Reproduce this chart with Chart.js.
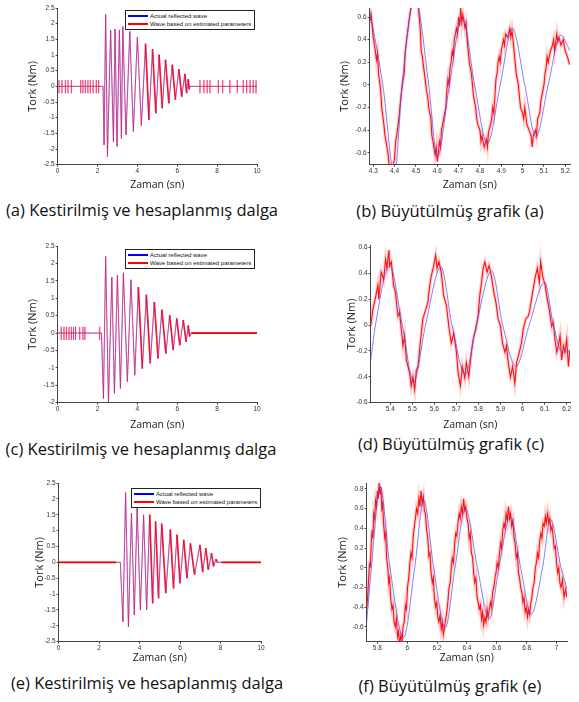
<!DOCTYPE html>
<html lang="tr">
<head>
<meta charset="UTF-8">
<title>Tork dalgaları</title>
<script src="https://cdn.jsdelivr.net/npm/chart.js"></script>
<style>
  body { margin: 0; background: #fff; }
  #wrap { position: relative; width: 579px; height: 702px; overflow: hidden; }
  .panel { position: absolute; }
  .cap { position: absolute; font-family: "Open Sans", sans-serif; font-size: 16.5px; color: #111; white-space: nowrap; transform: translate(-50%, -50%); }
  .lg { position: absolute; border: 1px solid #222; background: #fff; font-family: "Liberation Sans", Arial, sans-serif; font-size: 6px; color: #111; padding: 1px 3px 1px 2px; line-height: 8px; white-space: nowrap; }
  .lg .sw { display: inline-block; width: 20px; height: 2px; vertical-align: middle; margin-right: 2px; }
</style>
</head>
<body>
<div id="wrap"></div>
<script>
// --- data ---
const seriesLabels = ['Actual reflected wave', 'Wave based on estimated parameters'];
const xTitle = 'Zaman (sn)';
const yTitle = 'Tork (Nm)';
const captions = [
  '(a) Kestirilmiş ve hesaplanmış dalga',
  '(b) Büyütülmüş grafik (a)',
  '(c) Kestirilmiş ve hesaplanmış dalga',
  '(d) Büyütülmüş grafik (c)',
  '(e) Kestirilmiş ve hesaplanmış dalga',
  '(f) Büyütülmüş grafik (e)'
];

const fullXTicks = [0, 2, 4, 6, 8, 10];
const fullYTicks = [-2.5, -2, -1.5, -1, -0.5, 0, 0.5, 1, 1.5, 2, 2.5];
const fullYTicksC = [-2, -1.5, -1, -0.5, 0, 0.5, 1, 1.5, 2, 2.5];
const bXTicks = [4.3, 4.4, 4.5, 4.6, 4.7, 4.8, 4.9, 5, 5.1, 5.2];
const bYTicks = [-0.6, -0.4, -0.2, 0, 0.2, 0.4, 0.6];
const dXTicks = [5.4, 5.5, 5.6, 5.7, 5.8, 5.9, 6, 6.1, 6.2];
const dYTicks = [-0.6, -0.4, -0.2, 0, 0.2, 0.4, 0.6];
const fXTicks = [5.8, 6, 6.2, 6.4, 6.6, 6.8, 7];
const fYTicks = [-0.6, -0.4, -0.2, 0, 0.2, 0.4, 0.6, 0.8];

// (a) oscillation extremes [time, torque]
const waveA = [[2.28,0],[2.33,-1.87],[2.41,2.29],[2.5,-2.24],[2.66,1.8],[2.8,-1.77],[2.88,1.83],[2.98,-1.92],[3.1,1.8],[3.2,-1.66],[3.27,1.91],[3.43,-1.55],[3.62,1.75],[3.8,-1.44],[4.0,1.57],[4.2,-1.25],[4.41,1.36],[4.58,-1.07],[4.76,1.19],[4.93,-0.86],[5.09,1.01],[5.25,-0.7],[5.41,0.85],[5.58,-0.54],[5.75,0.69],[5.91,-0.43],[6.08,0.55],[6.23,-0.33],[6.38,0.4],[6.47,-0.22],[6.55,0.23],[6.6,-0.1],[6.65,0]];
// red noise spikes on the flat parts [time, high, low]
const spikesA1 = [[0.07,0.2,-0.22],[0.22,0.2,-0.22],[0.39,0.2,-0.22],[0.52,0.2,-0.22],[0.69,0.2,-0.22],[1.16,0.2,-0.22],[1.27,0.2,-0.22],[1.39,0.2,-0.22],[1.52,0.2,-0.22],[1.64,0.2,-0.22],[1.78,0.2,-0.22],[1.94,0.2,-0.22],[2.06,0.2,-0.22]];
const spikesA2 = [[7.14,0.2,-0.22],[7.34,0.2,-0.22],[7.5,0.2,-0.22],[7.64,0.2,-0.22],[8.06,0.2,-0.22],[8.28,0.2,-0.22],[8.64,0.2,-0.22],[9.01,0.2,-0.22],[9.31,0.2,-0.22],[9.48,0.2,-0.22],[9.65,0.2,-0.22],[9.81,0.2,-0.22],[9.95,0.2,-0.22]];

// (b) zoom of (a)
const blueB = [[4.27,0.8],[4.345,0],[4.40,-0.8],[4.435,0],[4.495,0.78],[4.56,0],[4.60,-0.64],[4.657,0],[4.718,0.6],[4.775,0],[4.835,-0.52],[4.895,0],[4.952,0.5],[5.01,0],[5.062,-0.46],[5.12,0],[5.178,0.44],[5.222,0.3]];
const redB = [[4.283,0.55],[4.29,0.62],[4.3,0.42],[4.31,0.3],[4.315,0.22],[4.32,0.28],[4.325,0.1],[4.335,-0.05],[4.34,-0.2],[4.35,-0.35],[4.355,-0.45],[4.36,-0.5],[4.37,-0.62],[4.375,-0.72],[4.39,-0.75],[4.4,-0.65],[4.405,-0.5],[4.41,-0.45],[4.42,-0.3],[4.425,-0.2],[4.43,-0.1],[4.44,0.05],[4.445,0.1],[4.45,0.3],[4.46,0.45],[4.47,0.6],[4.48,0.72],[4.5,0.75],[4.51,0.72],[4.52,0.5],[4.525,0.3],[4.53,0.25],[4.54,0.1],[4.55,-0.05],[4.555,-0.1],[4.56,-0.2],[4.57,-0.3],[4.575,-0.45],[4.58,-0.5],[4.59,-0.62],[4.595,-0.55],[4.6,-0.68],[4.605,-0.6],[4.61,-0.5],[4.615,-0.55],[4.62,-0.4],[4.63,-0.3],[4.64,-0.2],[4.645,-0.05],[4.65,0.05],[4.655,0],[4.66,0.15],[4.665,0.2],[4.67,0.3],[4.675,0.25],[4.68,0.4],[4.69,0.5],[4.695,0.45],[4.7,0.6],[4.705,0.52],[4.71,0.68],[4.715,0.55],[4.72,0.62],[4.73,0.5],[4.735,0.55],[4.74,0.4],[4.745,0.3],[4.75,0.2],[4.76,0.1],[4.765,0],[4.77,-0.1],[4.78,-0.2],[4.785,-0.3],[4.79,-0.35],[4.8,-0.4],[4.805,-0.5],[4.81,-0.45],[4.82,-0.55],[4.83,-0.48],[4.835,-0.55],[4.84,-0.42],[4.85,-0.35],[4.855,-0.3],[4.86,-0.2],[4.865,-0.25],[4.87,-0.1],[4.875,0.05],[4.88,0.1],[4.885,0.2],[4.89,0.25],[4.895,0.2],[4.9,0.3],[4.91,0.4],[4.915,0.35],[4.92,0.45],[4.93,0.42],[4.94,0.5],[4.945,0.42],[4.95,0.48],[4.955,0.4],[4.96,0.3],[4.965,0.2],[4.97,0.1],[4.98,0],[4.985,-0.1],[4.99,-0.2],[5.0,-0.25],[5.005,-0.3],[5.01,-0.2],[5.02,-0.35],[5.03,-0.4],[5.04,-0.45],[5.045,-0.55],[5.05,-0.45],[5.06,-0.4],[5.065,-0.45],[5.07,-0.3],[5.08,-0.25],[5.085,-0.15],[5.09,-0.1],[5.1,0],[5.105,0.1],[5.11,0.15],[5.115,0.25],[5.12,0.2],[5.13,0.3],[5.14,0.35],[5.145,0.4],[5.15,0.3],[5.16,0.45],[5.165,0.38],[5.17,0.42],[5.18,0.35],[5.19,0.4],[5.2,0.3],[5.21,0.25],[5.22,0.18]];

// (c)
const waveC = [[2.2,0],[2.3,-1.88],[2.41,2.2],[2.55,-2.0],[2.72,1.6],[2.85,-1.73],[3.0,1.66],[3.15,-1.59],[3.3,1.73],[3.5,-1.4],[3.68,1.53],[3.87,-1.21],[4.05,1.32],[4.25,-1.02],[4.45,1.1],[4.65,-0.87],[4.85,0.89],[5.04,-0.73],[5.23,0.67],[5.43,-0.59],[5.62,0.51],[5.8,-0.49],[5.97,0.42],[6.13,-0.35],[6.3,0.37],[6.45,-0.25],[6.55,0.22],[6.62,-0.1],[6.7,0]];
const spikesC = [[0.18,0.18,-0.2],[0.32,0.18,-0.2],[0.44,0.18,-0.2],[0.57,0.18,-0.2],[0.69,0.18,-0.2],[0.8,0.18,-0.2],[0.9,0.18,-0.2],[1.11,0.18,-0.2],[1.27,0.18,-0.2],[1.37,0.18,-0.2],[2.11,0.18,-0.2]];
const flatC = [[6.7, 10]];

// (d) zoom of (c)
const blueD = [[5.31,-0.29],[5.333,0],[5.397,0.46],[5.455,0],[5.506,-0.44],[5.56,0],[5.63,0.45],[5.68,0],[5.74,-0.38],[5.79,0],[5.86,0.42],[5.91,0],[5.97,-0.32],[6.03,0],[6.1,0.33],[6.14,0],[6.18,-0.21],[6.215,-0.2]];
const redD = [[5.311,-0.01],[5.321,0.12],[5.333,0.21],[5.344,0.31],[5.348,0.2],[5.359,0.41],[5.37,0.35],[5.379,0.51],[5.385,0.44],[5.394,0.58],[5.397,0.46],[5.405,0.49],[5.415,0.31],[5.424,0.25],[5.435,0.07],[5.442,0.1],[5.45,-0.03],[5.458,-0.16],[5.465,-0.08],[5.473,-0.27],[5.488,-0.37],[5.495,-0.47],[5.503,-0.4],[5.511,-0.5],[5.518,-0.35],[5.526,-0.32],[5.536,-0.14],[5.548,0.05],[5.561,0.12],[5.571,0.18],[5.579,0.31],[5.586,0.38],[5.597,0.46],[5.606,0.54],[5.612,0.44],[5.621,0.49],[5.632,0.4],[5.642,0.23],[5.655,0.15],[5.667,-0.03],[5.677,-0.14],[5.688,-0.06],[5.7,-0.21],[5.708,-0.37],[5.718,-0.47],[5.727,-0.32],[5.738,-0.41],[5.745,-0.29],[5.756,-0.4],[5.768,-0.21],[5.776,-0.11],[5.788,-0.03],[5.798,0.07],[5.806,0.23],[5.814,0.33],[5.821,0.44],[5.829,0.49],[5.839,0.41],[5.848,0.46],[5.859,0.38],[5.87,0.25],[5.879,0.18],[5.889,0.05],[5.9,-0.01],[5.909,-0.14],[5.92,-0.21],[5.927,-0.16],[5.935,-0.29],[5.945,-0.4],[5.955,-0.32],[5.965,-0.45],[5.973,-0.29],[5.985,-0.21],[5.995,-0.14],[6.003,-0.03],[6.015,0.05],[6.026,0.07],[6.033,0.12],[6.045,0.25],[6.056,0.36],[6.067,0.44],[6.076,0.33],[6.082,0.49],[6.091,0.38],[6.102,0.31],[6.112,0.2],[6.121,0.12],[6.132,-0.01],[6.139,0.02],[6.147,-0.11],[6.155,-0.21],[6.162,-0.16],[6.17,-0.08],[6.177,-0.27],[6.185,-0.16],[6.192,-0.21],[6.2,-0.11],[6.208,-0.32],[6.215,-0.19]];

// (e)
const waveE = [[3.05,0],[3.18,-1.87],[3.31,2.2],[3.45,-2.03],[3.6,1.55],[3.74,-1.66],[3.88,1.74],[4.04,-1.5],[4.2,1.5],[4.35,-1.5],[4.5,1.5],[4.65,-1.29],[4.79,1.29],[4.94,-1.13],[5.09,1.22],[5.3,-0.97],[5.52,1.03],[5.68,-0.82],[5.85,0.87],[6.0,-0.66],[6.18,0.71],[6.35,-0.5],[6.51,0.6],[6.72,-0.39],[6.98,0.55],[7.12,-0.31],[7.27,0.45],[7.4,-0.24],[7.55,0.29],[7.66,-0.13],[7.77,0.1],[7.85,0]];
const flatE = [[0, 2.85], [8.05, 10]];

// (f) zoom of (e)
const blueF = [[5.728,-0.56],[5.76,0],[5.818,0.83],[5.885,0],[5.975,-0.71],[6.05,0],[6.11,0.69],[6.177,0],[6.255,-0.61],[6.32,0],[6.39,0.6],[6.47,0],[6.55,-0.52],[6.614,0],[6.69,0.52],[6.76,0],[6.83,-0.47],[6.906,0],[6.96,0.49],[7.03,0],[7.07,-0.22]];
const redF = [[5.728,-0.42],[5.735,-0.3],[5.742,-0.1],[5.748,0.05],[5.752,0],[5.758,0.2],[5.765,0.38],[5.77,0.3],[5.776,0.55],[5.782,0.5],[5.788,0.68],[5.795,0.62],[5.8,0.78],[5.806,0.7],[5.812,0.86],[5.818,0.75],[5.824,0.82],[5.83,0.6],[5.836,0.65],[5.842,0.45],[5.85,0.3],[5.856,0.35],[5.862,0.1],[5.87,0],[5.876,-0.15],[5.882,-0.1],[5.89,-0.32],[5.898,-0.42],[5.905,-0.38],[5.912,-0.55],[5.92,-0.6],[5.928,-0.52],[5.935,-0.7],[5.942,-0.65],[5.95,-0.78],[5.958,-0.68],[5.965,-0.74],[5.972,-0.6],[5.98,-0.55],[5.988,-0.38],[5.995,-0.42],[6.002,-0.2],[6.01,-0.1],[6.018,0.05],[6.025,0.15],[6.032,0.1],[6.04,0.32],[6.048,0.42],[6.055,0.5],[6.062,0.6],[6.07,0.55],[6.078,0.7],[6.085,0.62],[6.092,0.78],[6.1,0.65],[6.108,0.72],[6.115,0.58],[6.122,0.55],[6.13,0.38],[6.138,0.3],[6.145,0.12],[6.152,0.15],[6.16,-0.05],[6.168,-0.15],[6.175,-0.1],[6.182,-0.3],[6.19,-0.4],[6.198,-0.35],[6.205,-0.5],[6.212,-0.55],[6.22,-0.48],[6.228,-0.62],[6.235,-0.55],[6.242,-0.68],[6.25,-0.6],[6.258,-0.52],[6.265,-0.45],[6.272,-0.35],[6.28,-0.2],[6.288,-0.15],[6.295,0],[6.302,0.1],[6.31,0.05],[6.318,0.25],[6.325,0.35],[6.332,0.32],[6.34,0.45],[6.348,0.55],[6.355,0.5],[6.362,0.62],[6.37,0.55],[6.378,0.7],[6.385,0.58],[6.392,0.62],[6.4,0.5],[6.408,0.45],[6.415,0.3],[6.422,0.35],[6.43,0.15],[6.438,0.1],[6.445,-0.05],[6.452,-0.15],[6.46,-0.1],[6.468,-0.3],[6.475,-0.35],[6.482,-0.42],[6.49,-0.38],[6.498,-0.52],[6.505,-0.45],[6.512,-0.58],[6.52,-0.5],[6.528,-0.55],[6.535,-0.42],[6.542,-0.5],[6.55,-0.42],[6.558,-0.35],[6.565,-0.4],[6.572,-0.25],[6.58,-0.2],[6.588,-0.1],[6.595,-0.05],[6.602,0.05],[6.61,0],[6.618,0.15],[6.625,0.25],[6.632,0.2],[6.64,0.38],[6.648,0.45],[6.655,0.4],[6.662,0.55],[6.67,0.48],[6.678,0.62],[6.685,0.5],[6.692,0.55],[6.7,0.42],[6.708,0.48],[6.715,0.3],[6.722,0.25],[6.73,0.1],[6.738,0.15],[6.745,-0.05],[6.752,-0.1],[6.76,-0.2],[6.768,-0.25],[6.775,-0.35],[6.782,-0.3],[6.79,-0.45],[6.798,-0.4],[6.805,-0.5],[6.812,-0.42],[6.82,-0.48],[6.828,-0.35],[6.835,-0.3],[6.842,-0.2],[6.85,-0.15],[6.858,0],[6.865,0.05],[6.872,0.15],[6.88,0.1],[6.888,0.28],[6.895,0.35],[6.902,0.3],[6.91,0.45],[6.918,0.42],[6.925,0.52],[6.932,0.45],[6.94,0.55],[6.948,0.45],[6.955,0.5],[6.962,0.38],[6.97,0.42],[6.978,0.3],[6.985,0.2],[6.992,0.22],[7.0,0.05],[7.008,-0.05],[7.015,0],[7.022,-0.15],[7.03,-0.2],[7.04,-0.12],[7.05,-0.3],[7.06,-0.22],[7.07,-0.3]];

// --- helpers ---
const pts = arr => arr.map(([x, y]) => ({ x, y }));
function spikePts(spikes) {
  const out = [];
  spikes.forEach(([t, hi, lo]) => out.push({x: t, y: 0}, {x: t, y: hi}, {x: t, y: lo}, {x: t, y: 0}));
  return out;
}
function flatPts(ranges) {
  const out = [];
  ranges.forEach(([a, b], k) => {
    if (k) out.push({x: a, y: null});
    out.push({x: a, y: 0}, {x: b, y: 0});
  });
  return out;
}

const blueA = [{x: 0, y: 0}, ...pts(waveA), {x: 10, y: 0}];
const redA = [{x: 0, y: 0}, ...spikePts(spikesA1), ...pts(waveA), ...spikePts(spikesA2), {x: 10, y: 0}];
const blueC = [{x: 0, y: 0}, ...pts(waveC), {x: 10, y: 0}];
const redC = [{x: 0, y: 0}, ...spikePts(spikesC), ...pts(waveC), {x: 10, y: 0}];
const blueE = [{x: 0, y: 0}, ...pts(waveE), {x: 10, y: 0}];
const redE = [{x: 0, y: 0}, ...pts(waveE), {x: 10, y: 0}];

// chart-area geometry in page pixels: L,R,T,B; tx = y-title centre x, ty = x-title centre y
// heavy: time span where the red trace looks thickened on its falling strokes
const panels = [
  { L: 58, R: 257, T: 8, B: 165, tx: 33, ty: 185, xmin: 0, xmax: 10, ymin: -2.5, ymax: 2.5, xt: fullXTicks, yt: fullYTicks, blue: blueA, red: redA, flat: null, heavy: [4.3, 6.7], zoom: false },
  { L: 370, R: 570, T: 8, B: 165, tx: 345, ty: 185, xmin: 4.283, xmax: 5.222, ymin: -0.706, ymax: 0.68, xt: bXTicks, yt: bYTicks, blue: pts(blueB), red: pts(redB), zoom: true },
  { L: 58, R: 257, T: 246, B: 403, tx: 33, ty: 425, xmin: 0, xmax: 10, ymin: -2, ymax: 2.5, xt: fullXTicks, yt: fullYTicksC, blue: blueC, red: redC, flat: flatPts(flatC), heavy: [4.0, 6.7], zoom: false },
  { L: 371, R: 570, T: 245, B: 403, tx: 352, ty: 425, xmin: 5.311, xmax: 6.215, ymin: -0.6, ymax: 0.62, xt: dXTicks, yt: dYTicks, blue: pts(blueD), red: pts(redD), zoom: true },
  { L: 59, R: 261, T: 483, B: 642, tx: 40, ty: 658, xmin: 0, xmax: 10, ymin: -2.5, ymax: 2.5, xt: fullXTicks, yt: fullYTicks, blue: blueE, red: redE, flat: flatPts(flatE), heavy: [4.5, 7.9], zoom: false },
  { L: 367, R: 567, T: 483, B: 642, tx: 343, ty: 658, xmin: 5.728, xmax: 7.07, ymin: -0.75, ymax: 0.86, xt: fXTicks, yt: fYTicks, blue: pts(blueF), red: pts(redF), zoom: true }
];
const captionPos = [[142, 209], [450, 210], [141, 448], [451, 443], [147, 682], [450, 685]];
const legendPos = [[125, 10], null, [125, 249], null, [131, 488], null];

const wrap = document.getElementById('wrap');
const tickFont = { family: '"Liberation Sans", Arial, sans-serif', size: 6.5 };
const titleFontY = { family: '"Open Sans", sans-serif', size: 11 };
const titleFontX = { family: '"Open Sans", sans-serif', size: 10.5 };
const PT = 8, PR = 8;

panels.forEach((p, i) => {
  const yw = p.L - p.tx + titleFontY.size * 0.6;
  const xh = p.ty - p.B + titleFontX.size * 0.6;
  const div = document.createElement('div');
  div.className = 'panel';
  const w = Math.round(p.R - p.L + yw + PR), h = Math.round(p.B - p.T + PT + xh);
  div.style.left = (p.L - yw) + 'px';
  div.style.top = (p.T - PT) + 'px';
  const cv = document.createElement('canvas');
  cv.width = w; cv.height = h;
  cv.style.width = w + 'px'; cv.style.height = h + 'px';
  div.appendChild(cv);
  wrap.appendChild(div);

  let datasets;
  if (p.zoom) {
    datasets = [
      { label: seriesLabels[0], data: p.blue, borderColor: 'rgba(80,80,255,0.8)', borderWidth: 0.9, cubicInterpolationMode: 'monotone', order: 0 },
      { label: seriesLabels[1], data: p.red, borderColor: '#ff1010', borderWidth: 1.1, order: 1 },
      { label: 'halo', data: p.red, borderColor: 'rgba(255,90,90,0.28)', borderWidth: 3.5, order: 2 }
    ];
  } else {
    const heavy = ctx => ctx.p0.parsed.x >= p.heavy[0] && ctx.p1.parsed.x <= p.heavy[1] && ctx.p0.parsed.y > ctx.p1.parsed.y;
    datasets = [
      { label: seriesLabels[1], data: p.red, borderColor: 'rgba(235,30,90,0.72)', borderWidth: 0.9, order: 1,
        segment: {
          borderWidth: ctx => heavy(ctx) ? 1.7 : undefined,
          borderColor: ctx => heavy(ctx) ? 'rgba(250,0,20,0.85)' : undefined
        } },
      { label: seriesLabels[0], data: p.blue, borderColor: 'rgba(60,60,255,0.7)', borderWidth: 0.8, order: 2 }
    ];
    if (p.flat) datasets.push({ label: 'flat', data: p.flat, borderColor: '#ff0000', borderWidth: 1.8, spanGaps: false, order: 0 });
  }
  datasets.forEach(d => { d.pointRadius = 0; d.fill = false; d.tension = 0; });

  const axisCommon = (ticksArr, title, font) => ({
    type: 'linear',
    afterBuildTicks: s => { s.ticks = ticksArr.map(v => ({ value: v })); },
    ticks: { font: tickFont, color: '#333', padding: 1, maxRotation: 0, autoSkip: false, callback: v => String(v) },
    grid: { drawOnChartArea: false, tickLength: 2, color: '#444' },
    border: { color: '#444', width: 1 },
    title: { display: true, text: title, font: font, color: '#222', padding: 0 }
  });

  new Chart(cv.getContext('2d'), {
    type: 'line',
    data: { datasets },
    options: {
      responsive: false,
      animation: false,
      parsing: false,
      layout: { padding: { top: PT, right: PR, left: 0, bottom: 0 } },
      plugins: { legend: { display: false }, tooltip: { enabled: false } },
      scales: {
        x: Object.assign(axisCommon(p.xt, xTitle, titleFontX), { min: p.xmin, max: p.xmax, afterFit: s => { s.height = xh; } }),
        y: Object.assign(axisCommon(p.yt, yTitle, titleFontY), { min: p.ymin, max: p.ymax, afterFit: s => { s.width = yw; } })
      }
    }
  });

  const cap = document.createElement('div');
  cap.className = 'cap';
  cap.textContent = captions[i];
  cap.style.left = captionPos[i][0] + 'px';
  cap.style.top = captionPos[i][1] + 'px';
  wrap.appendChild(cap);

  if (legendPos[i]) {
    const lg = document.createElement('div');
    lg.className = 'lg';
    lg.style.left = legendPos[i][0] + 'px';
    lg.style.top = legendPos[i][1] + 'px';
    const colors = ['#0000ff', '#ff0000'];
    lg.innerHTML = seriesLabels.map((s, k) =>
      '<div><span class="sw" style="background:' + colors[k] + '"></span>' + s + '</div>').join('');
    wrap.appendChild(lg);
  }
});
</script>
</body>
</html>
